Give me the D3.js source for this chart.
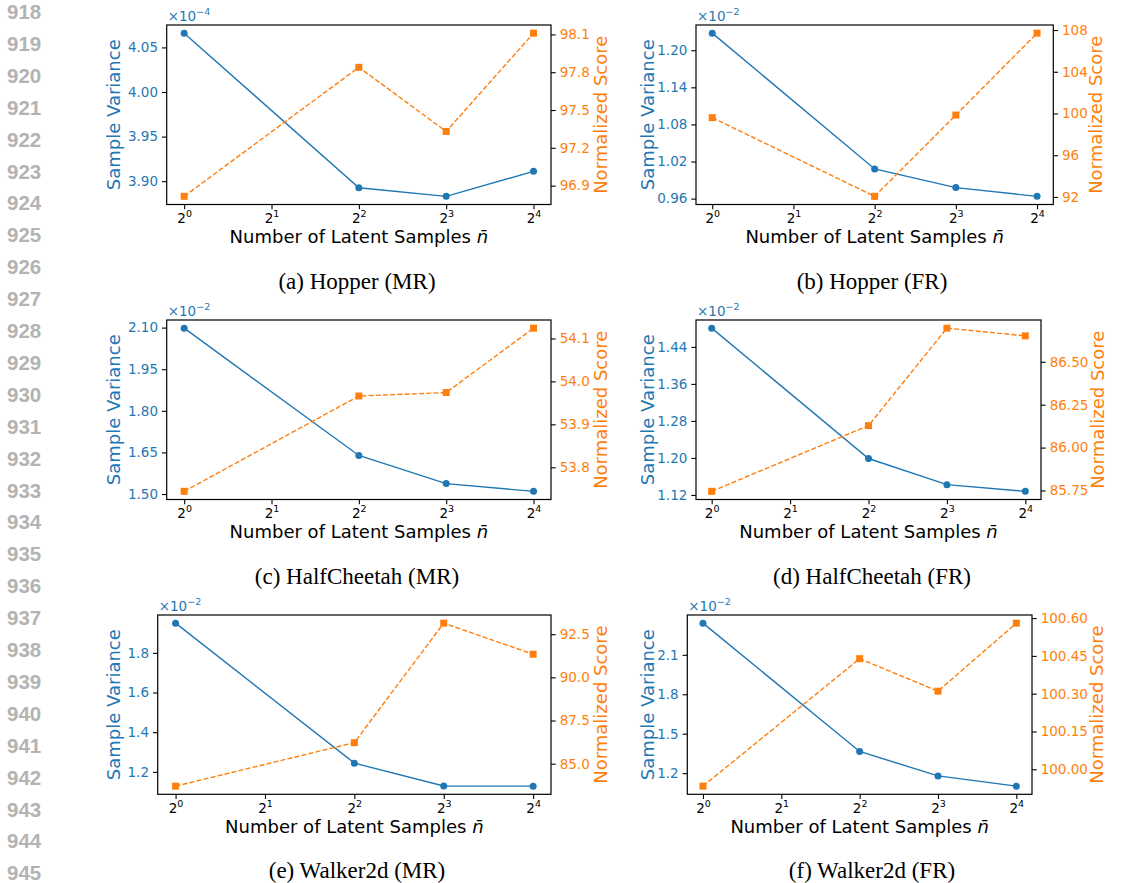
<!DOCTYPE html>
<html>
<head>
<meta charset="utf-8">
<script src="https://cdn.jsdelivr.net/npm/d3@7"></script>
<style>
  body { margin: 0; background: #fff; }
  svg { display: block; }
</style>
</head>
<body>
<script>
// x values (number of latent samples) and x ticks
var nSamples = [1, 4, 8, 16];
var xTicks = [1, 2, 4, 8, 16];

var captions = ["(a) Hopper (MR)", "(b) Hopper (FR)", "(c) HalfCheetah (MR)",
                "(d) HalfCheetah (FR)", "(e) Walker2d (MR)", "(f) Walker2d (FR)"];

// sample variance, in units of 10^exp
var varExp = [-4, -2, -2, -2, -2, -2];
var varHopperMR = [4.066, 3.8926, 3.883, 3.911];
var varHopperFR = [1.2276, 1.008, 0.9778, 0.9637];
var varCheetahMR = [2.098, 1.639, 1.5376, 1.5097];
var varCheetahFR = [1.4805, 1.1987, 1.1423, 1.1278];
var varWalkerMR = [1.9497, 1.244, 1.129, 1.128];
var varWalkerFR = [2.341, 1.365, 1.179, 1.101];

// normalized score
var scoreHopperMR = [96.815, 97.839, 97.33, 98.11];
var scoreHopperFR = [99.6, 92.06, 99.85, 107.7];
var scoreCheetahMR = [53.744, 53.966, 53.974, 54.124];
var scoreCheetahFR = [85.745, 86.128, 86.696, 86.651];
var scoreWalkerMR = [83.70, 86.22, 93.14, 91.34];
var scoreWalkerFR = [99.933, 100.439, 100.31, 100.58];

// tick labels
var varTicks = [
  [3.90, 3.95, 4.00, 4.05],
  [0.96, 1.02, 1.08, 1.14, 1.20],
  [1.50, 1.65, 1.80, 1.95, 2.10],
  [1.12, 1.20, 1.28, 1.36, 1.44],
  [1.2, 1.4, 1.6, 1.8],
  [1.2, 1.5, 1.8, 2.1]
];
var scoreTicks = [
  [96.9, 97.2, 97.5, 97.8, 98.1],
  [92, 96, 100, 104, 108],
  [53.8, 53.9, 54.0, 54.1],
  [85.75, 86.00, 86.25, 86.50],
  [85.0, 87.5, 90.0, 92.5],
  [100.00, 100.15, 100.30, 100.45, 100.60]
];
var varDigits = [2, 2, 2, 2, 1, 1];
var scoreDigits = [1, 0, 1, 2, 1, 2];

var lineNumbers = d3.range(918, 946);

var varSeries = [varHopperMR, varHopperFR, varCheetahMR, varCheetahFR, varWalkerMR, varWalkerFR];
var scoreSeries = [scoreHopperMR, scoreHopperFR, scoreCheetahMR, scoreCheetahFR, scoreWalkerMR, scoreWalkerFR];

// layout of each subplot (pixels)
var rowTop = [25, 320, 615], rowBot = [204.5, 499.5, 794.3], capY = [289, 584, 878];
var boxL = [166.7, 696, 166.7, 696, 157.7, 687.3];
var boxR = [551, 1053.3, 551, 1041, 551, 1032];
var rightLabX = [607, 1102, 606.5, 1103.5, 606.5, 1102.5];
var blue = '#1f77b4', orange = '#ff7f0e';
var sans = '"DejaVu Sans", sans-serif';

var svg = d3.select('body').append('svg').attr('width', 1147).attr('height', 883)
  .style('font-family', sans);

// margin line numbers
svg.append('g').selectAll('text').data(lineNumbers).enter().append('text')
  .attr('x', 7).attr('y', (d, i) => 19 + i * 31.9)
  .style('font-family', '"Liberation Sans", Arial, sans-serif').style('font-weight', 'bold')
  .style('font-size', '20.5px').attr('fill', '#b3b3b3').text(d => d);

function padded(vals) {
  var lo = d3.min(vals), hi = d3.max(vals), p = (hi - lo) * 0.05;
  return [lo - p, hi + p];
}

function styleTicks(sel, color) {
  sel.select('.domain').remove();
  sel.selectAll('.tick text').style('font-size', '13.5px').style('font-family', sans).attr('fill', color);
}

function drawPanel(i) {
  var col = i % 2, row = Math.floor(i / 2);
  var l = boxL[i], r = boxR[i], t = rowTop[row], b = rowBot[row];
  var g = svg.append('g');

  var x = d3.scaleLog().base(2).domain([Math.pow(2, -0.2), Math.pow(2, 4.2)]).range([l, r]);
  var yL = d3.scaleLinear().domain(padded(varSeries[i])).range([b, t]);
  var yR = d3.scaleLinear().domain(padded(scoreSeries[i])).range([b, t]);

  // x axis with 2^k labels
  var gx = g.append('g').attr('transform', 'translate(0,' + b + ')')
    .call(d3.axisBottom(x).tickValues(xTicks).tickSize(4.7).tickSizeOuter(0).tickPadding(4.5));
  styleTicks(gx, '#000');
  gx.selectAll('.tick text').each(function(d) {
    var s = d3.select(this); s.text(null);
    s.append('tspan').text('2');
    s.append('tspan').attr('dy', -6).style('font-size', '9.5px').text(Math.round(Math.log2(d)));
  });

  var gl = g.append('g').attr('transform', 'translate(' + l + ',0)')
    .call(d3.axisLeft(yL).tickValues(varTicks[i]).tickSize(4.7).tickSizeOuter(0).tickPadding(4)
      .tickFormat(d3.format('.' + varDigits[i] + 'f')));
  styleTicks(gl, blue);

  var gr = g.append('g').attr('transform', 'translate(' + r + ',0)')
    .call(d3.axisRight(yR).tickValues(scoreTicks[i]).tickSize(4.7).tickSizeOuter(0).tickPadding(4)
      .tickFormat(d3.format('.' + scoreDigits[i] + 'f')));
  styleTicks(gr, orange);
  g.selectAll('.tick line').attr('stroke', '#000').attr('stroke-width', 1.1);

  // frame
  g.append('rect').attr('x', l).attr('y', t).attr('width', r - l).attr('height', b - t)
    .attr('fill', 'none').attr('stroke', '#000').attr('stroke-width', 1.2);

  // offset text
  var off = g.append('text').attr('x', l + 1).attr('y', t - 4).style('font-size', '13.5px').attr('fill', blue);
  off.append('tspan').text('×10');
  off.append('tspan').attr('dy', -6).style('font-size', '9.5px').text('−' + Math.abs(varExp[i]));

  // labels
  g.append('text').attr('transform', 'translate(' + (col ? 653.5 : 120) + ',' + ((t + b) / 2) + ') rotate(-90)')
    .attr('text-anchor', 'middle').style('font-size', '18px').attr('fill', blue).text('Sample Variance');
  g.append('text').attr('transform', 'translate(' + rightLabX[i] + ',' + ((t + b) / 2) + ') rotate(-90)')
    .attr('text-anchor', 'middle').style('font-size', '18px').attr('fill', orange).text('Normalized Score');
  var xl = g.append('text').attr('x', (l + r) / 2).attr('y', b + 38.7).attr('text-anchor', 'middle')
    .style('font-size', '18px').attr('fill', '#000');
  xl.append('tspan').text('Number of Latent Samples ');
  xl.append('tspan').style('font-style', 'italic').text('n̄');

  // caption
  g.append('text').attr('x', col ? 872 : 357).attr('y', capY[row]).attr('text-anchor', 'middle')
    .style('font-family', '"Liberation Serif", "Times New Roman", serif').style('font-size', '23px')
    .attr('fill', '#000').text(captions[i]);

  // variance series
  var pts = nSamples.map((n, k) => [n, varSeries[i][k]]);
  g.append('path').datum(pts).attr('fill', 'none').attr('stroke', blue).attr('stroke-width', 1.4)
    .attr('d', d3.line().x(d => x(d[0])).y(d => yL(d[1])));
  g.selectAll('.dot').data(pts).enter().append('circle')
    .attr('cx', d => x(d[0])).attr('cy', d => yL(d[1])).attr('r', 3.5).attr('fill', blue);

  // score series
  var sp = nSamples.map((n, k) => [n, scoreSeries[i][k]]);
  g.append('path').datum(sp).attr('fill', 'none').attr('stroke', orange).attr('stroke-width', 1.4)
    .attr('stroke-dasharray', '5,2.2')
    .attr('d', d3.line().x(d => x(d[0])).y(d => yR(d[1])));
  g.selectAll('.sq').data(sp).enter().append('rect')
    .attr('x', d => x(d[0]) - 3.5).attr('y', d => yR(d[1]) - 3.5).attr('width', 7).attr('height', 7)
    .attr('fill', orange);
}

for (var i = 0; i < 6; i++) drawPanel(i);
</script>
</body>
</html>
